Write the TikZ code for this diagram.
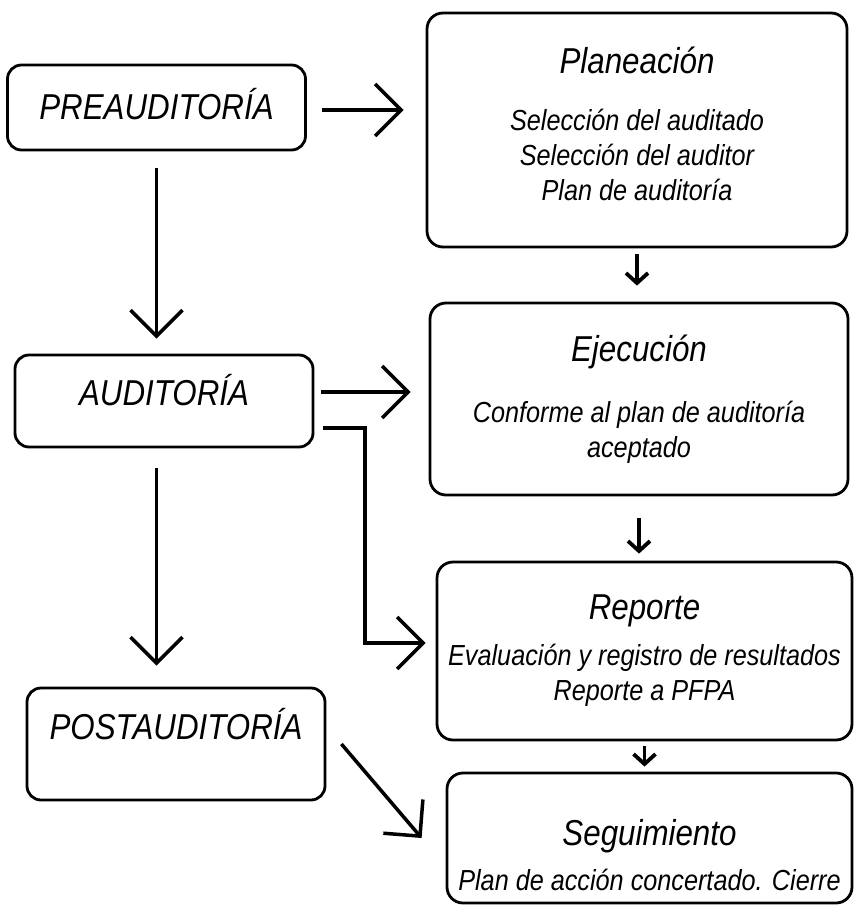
\documentclass[tikz,border=0pt]{standalone}
\usepackage{fontspec}
\setmainfont{Liberation Sans}[FakeStretch=0.87]
\usepackage{tikz}
\usetikzlibrary{arrows.meta, positioning}

\newcommand\titulo[1]{{\fontsize{36}{40}\selectfont #1}}

\begin{document}
\begin{tikzpicture}[
    % Unidades en puntos, eje y hacia abajo
    x=1pt, y=-1pt,
    every node/.style={font=\itshape},
    fase/.style={rectangle, draw, line width=2.8pt, rounded corners=14pt, minimum width=298pt, align=center, font=\fontsize{36}{40}\selectfont\itshape},
    etapa/.style={rectangle, draw, line width=2.8pt, rounded corners=16pt, align=center, font=\fontsize{29}{35}\selectfont\itshape},
    arrow/.style={line width=3.5pt, -{Straight Barb[length=26pt, width=52pt]}},
    small arrow/.style={line width=3.8pt, -{Straight Barb[length=10pt, width=22pt]}}
]
    \useasboundingbox (0,0) rectangle (855,915);

    % --- Fases de la auditoría (izquierda) ---
    \node[fase, minimum height=85pt, text height=27pt, text depth=2pt] (pre) at (156.5,107.5) {PREAUDITORÍA};
    \node[fase, minimum height=92pt, text height=24pt, text depth=15pt] (aud) at (164,401) {AUDITORÍA};
    \node[fase, minimum height=112pt, text height=24pt, text depth=33pt] (post) at (176,744) {POSTAUDITORÍA};

    % --- Etapas (derecha) ---
    \node[etapa, minimum width=420pt, minimum height=234pt] (plan) at (637,130) {\titulo{Planeación}\\[22pt] Selección del auditado\\ Selección del auditor\\ Plan de auditoría\rule[-13pt]{0pt}{0pt}};
    \node[etapa, minimum width=418pt, minimum height=192pt] (ejec) at (639,399) {\titulo{Ejecución}\\[26pt] Conforme al plan de auditoría\\ aceptado};
    \node[etapa, minimum width=415pt, minimum height=178pt] (rep) at (644.5,651) {\titulo{Reporte}\\[11pt] Evaluación y registro de resultados\\ Reporte a PFPA};
    \node[etapa, minimum width=405pt, minimum height=130pt] (seg) at (649.5,838) {\titulo{\rule{0pt}{60pt}Seguimiento}\\[10pt] Plan de acción concertado. Cierre};

    % --- Flechas ---
    \draw[arrow, shorten <=15pt, shorten >=22pt] ([yshift=-2.5pt]pre.east) -- ([yshift=-2.5pt]pre.east -| plan.west);
    \draw[arrow, shorten <=17pt, shorten >=15pt] (pre.south) -- (pre.south |- aud.north);
    \draw[arrow, shorten <=7pt, shorten >=18pt] ([yshift=9pt]aud.east) -- ([yshift=9pt]aud.east -| ejec.west);
    \coordinate (codo) at (365,643);
    \draw[arrow, shorten >=10pt] ([xshift=9pt, yshift=-27pt]aud.east) -| (codo) -- (codo -| rep.west);
    \draw[arrow, shorten <=20pt, shorten >=21pt] (aud.south -| pre.south) -- (post.north -| pre.south);
    \draw[arrow] ([xshift=15pt]post.east) -- ([xshift=-24pt]seg.west);

    \draw[small arrow, shorten <=6pt, shorten >=16pt] (plan.south) -- (plan.south |- ejec.north);
    \draw[small arrow, shorten <=22pt, shorten >=7pt] (ejec.south) -- (ejec.south |- rep.north);
    \draw[small arrow, shorten <=5pt, shorten >=5pt] (rep.south) -- (rep.south |- seg.north);
\end{tikzpicture}
\end{document}
